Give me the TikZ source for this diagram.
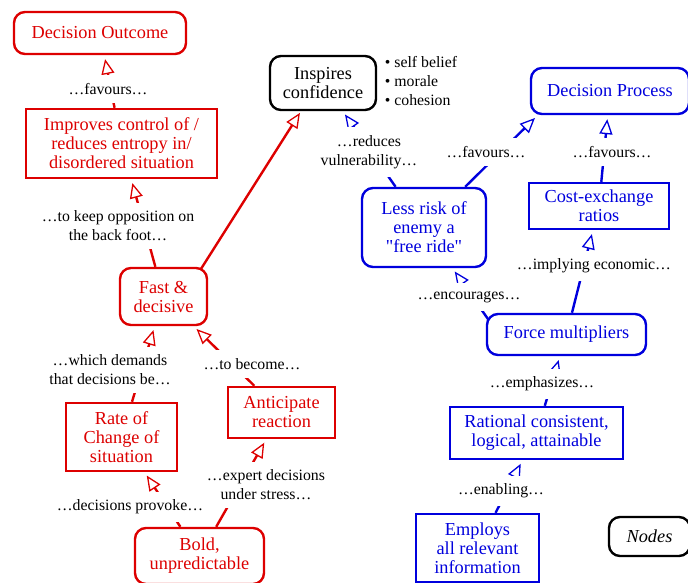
\documentclass[tikz,border=0pt]{standalone}
\usepackage{fontspec}
\setmainfont{Liberation Serif}
\usetikzlibrary{arrows.meta,backgrounds}
\definecolor{cred}{RGB}{221,0,0}
\definecolor{cblue}{RGB}{0,0,221}

\begin{document}
\begin{tikzpicture}[x=1pt,y=-1pt,
  box/.style={draw, fill=white, line width=2.4pt, align=center, inner sep=1pt,
    font=\fontsize{18.3}{19}\selectfont},
  rbox/.style={box, rounded corners=11pt},
  redn/.style={text=cred, draw=cred},
  bluen/.style={text=cblue, draw=cblue},
  blackn/.style={text=black, draw=black},
  lbl/.style={align=center, fill=white, inner xsep=4pt, inner ysep=8pt,
    font=\fontsize{15.8}{19}\selectfont},
  tip/.style={line width=2.4pt, shorten >=4pt,
    -{Triangle[open,length=15pt,width=13pt,line width=1.3pt]}},
]
\useasboundingbox (0,0) rectangle (688,582);

% ---- red concepts ----
\node[rbox,redn,minimum width=172pt,minimum height=42pt] (out) at (100,33) {Decision Outcome};
\node[box,redn,minimum width=191pt,minimum height=69pt] (impr) at (121.5,143.5)
  {Improves control of /\\reduces entropy in/\\disordered situation};
\node[rbox,redn,minimum width=87pt,minimum height=57pt] (fast) at (163.5,296.5) {Fast \&\\decisive};
\node[box,redn,minimum width=111pt,minimum height=68pt] (rate) at (121.5,437) {Rate of\\Change of\\situation};
\node[box,redn,minimum width=107pt,minimum height=51pt] (antic) at (281.5,412.5) {Anticipate\\reaction};
\node[rbox,redn,minimum width=129pt,minimum height=56pt] (bold) at (199.5,556) {Bold,\\unpredictable};

% ---- confidence ----
\node[rbox,blackn,minimum width=106pt,minimum height=54pt] (insp) at (323,83) {Inspires\\confidence};
\node[align=left, inner sep=0pt, font=\fontsize{15.8}{19}\selectfont] (bul) at (421,81)
  {\textbullet\ self belief\\\textbullet\ morale\\\textbullet\ cohesion};

% ---- blue concepts ----
\node[rbox,bluen,minimum width=158pt,minimum height=46pt] (dp) at (610,91) {Decision Process};
\node[rbox,bluen,minimum width=124pt,minimum height=79pt] (lr) at (424,227.5)
  {Less risk of\\enemy a\\\textquotedbl free ride\textquotedbl};
\node[box,bluen,minimum width=140pt,minimum height=46pt] (ce) at (599,206) {Cost-exchange\\ratios};
\node[rbox,bluen,minimum width=159pt,minimum height=41pt] (fm) at (566.5,334.5) {Force multipliers};
\node[box,bluen,minimum width=173pt,minimum height=52pt] (rat) at (536.5,433) {Rational consistent,\\logical, attainable};
\node[box,bluen,minimum width=123pt,minimum height=68pt] (emp) at (477.5,548) {Employs\\all relevant\\information};

\node[rbox,blackn,minimum width=81pt,minimum height=39pt] (legend) at (649.5,536.5) {\itshape Nodes};

% ---- linking phrases (white boxes break the links) ----
\node[lbl] (l1) at (108,89) {\dots favours\dots};
\node[lbl] (l2) at (118,226) {\dots to keep opposition on\\the back foot\dots};
\node[lbl] (l3) at (110,370) {\dots which demands\\that decisions be\dots};
\node[lbl] (l4) at (252,364) {\dots to become\dots};
\node[lbl] (l5) at (130,507) {\dots decisions provoke\dots};
\node[lbl] (l6) at (266,485) {\dots expert decisions\\under stress\dots};
\node[lbl] (l7) at (369,152) {\dots reduces\\vulnerability\dots};
\node[lbl] (l8) at (486,152) {\dots favours\dots};
\node[lbl] (l9) at (612,152) {\dots favours\dots};
\node[lbl] (l10) at (594,266) {\dots implying economic\dots};
\node[lbl] (l11) at (469,297) {\dots encourages\dots};
\node[lbl] (l12) at (542,384) {\dots emphasizes\dots};
\node[lbl] (l13) at (501,491) {\dots enabling\dots};

% ---- links, behind concepts and phrases ----
\begin{scope}[on background layer]
  \begin{scope}[draw=cred]
    \draw[tip] (impr) -- (out);
    \draw[tip] (fast) -- (impr);
    \draw[tip] (rate) -- (fast);
    \draw[tip] (antic) -- (fast);
    \draw[tip] (bold) -- (rate);
    \draw[tip] (bold) -- (antic);
    \draw[tip, shorten >=2pt] ([xshift=20pt]fast.center) -- ([xshift=-22pt]insp.south);
  \end{scope}
  \begin{scope}[draw=cblue]
    \draw[tip] (lr) -- (insp);
    \draw[tip] (lr) -- ([xshift=8pt]dp.south west);
    \draw[tip] (ce) -- (dp);
    \draw[tip] (fm) -- (ce);
    \draw[tip] ([xshift=13pt]fm.west) -- (lr);
    \draw[tip] (rat) -- (fm);
    \draw[tip] (emp) -- (rat);
  \end{scope}
\end{scope}
\end{tikzpicture}
\end{document}
